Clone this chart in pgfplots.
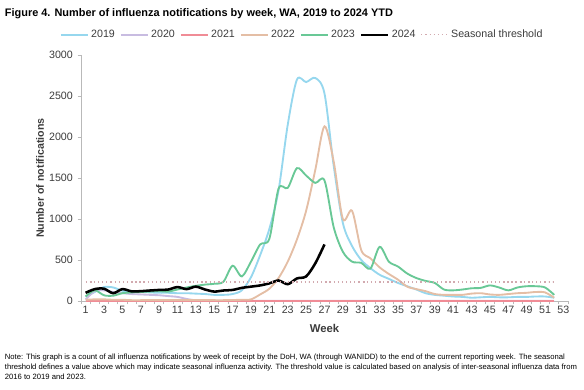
\documentclass[border=0pt]{standalone}
\usepackage{pgfplots}
\pgfplotsset{compat=1.18}
\usepackage{fontspec}
\setmainfont{Liberation Sans}
\definecolor{c2019}{RGB}{150,215,238}
\definecolor{c2020}{RGB}{200,188,225}
\definecolor{c2021}{RGB}{240,140,150}
\definecolor{c2022}{RGB}{228,190,165}
\definecolor{c2023}{RGB}{105,200,150}
\definecolor{cthr}{RGB}{210,170,175}
\definecolor{txt}{RGB}{60,60,60}
\definecolor{axc}{RGB}{185,185,185}

\pgfplotstableread{
w y2019 y2020 y2021 y2022 y2023
1 55 20 2 15 55
2 110 120 2 20 130
3 170 130 2 20 70
4 165 110 2 15 65
5 125 95 2 15 95
6 110 85 2 10 105
7 110 80 2 10 110
8 105 75 2 10 115
9 100 70 2 10 120
10 100 60 2 10 115
11 95 50 2 10 140
12 95 25 2 10 165
13 90 8 2 10 185
14 85 3 2 10 200
15 75 2 2 10 210
16 75 2 2 10 235
17 85 2 2 12 430
18 130 2 2 15 300
19 290 2 2 20 480
20 560 2 2 80 690
21 880 2 2 150 760
22 1350 2 2 280 1370
23 2150 2 2 480 1380
24 2700 2 2 750 1620
25 2670 2 2 1100 1530
26 2720 2 2 1600 1440
27 2530 2 2 2130 1470
28 1650 2 2 1700 900
29 950 2 2 1000 600
30 670 2 2 1100 480
31 500 2 2 620 465
32 400 2 2 520 395
33 320 2 2 410 660
34 270 2 2 330 480
35 220 2 2 260 420
36 180 2 2 175 335
37 140 2 2 145 280
38 95 2 2 120 245
39 75 2 2 85 220
40 65 2 2 75 140
41 55 2 2 75 130
42 50 2 2 75 140
43 40 2 2 90 155
44 45 2 2 95 160
45 50 2 2 80 190
46 45 2 2 75 165
47 45 2 2 85 130
48 50 2 2 95 165
49 50 2 2 100 180
50 55 2 2 110 180
51 55 2 2 105 165
52 40 2 2 40 75
}\flu

\pgfplotstableread{
w y
1 100
2 145
3 150
4 95
5 145
6 118
7 120
8 128
9 135
10 140
11 170
12 145
13 175
14 140
15 115
16 128
17 135
18 160
19 175
20 190
21 215
22 250
23 205
24 275
25 300
26 460
27 690
}\yrtf

\pgfplotstableread{
w y
1 232
52 232
}\thr

\begin{document}
\begin{tikzpicture}
\useasboundingbox (0,0) rectangle (438pt,291.75pt);
\node[anchor=base west, inner sep=0pt, font=\fontsize{8.2}{9.5}\selectfont\bfseries] at (3.5pt,279pt)
  {Figure 4. Number of influenza notifications by week, WA, 2019 to 2024 YTD};
\begin{axis}[
  at={(60.75pt,66pt)}, anchor=south west,
  scale only axis, width=365.25pt, height=184.5pt,
  xmin=0.5, xmax=53.5, ymin=0, ymax=3000,
  axis x line*=bottom, axis y line*=left,
  axis line style={draw=axc, line width=0.6pt},
  tick align=outside,
  major tick length=2.6pt,
  tick style={draw=axc, line width=0.5pt},
  ytick={0,500,...,3000},
  scaled y ticks=false,
  xtick={0.5,1.5,...,53.5},
  xticklabels={},
  extra x ticks={1,3,...,53},
  extra x tick style={major tick length=0pt, tick style={draw=none}},
  ticklabel style={font=\fontsize{8}{9}\selectfont, text=txt},
  /pgf/number format/assume math mode=true,
  /pgf/number format/1000 sep={},
  ylabel={Number of notifications},
  ylabel style={at={(axis description cs:-0.084,0.5)}, anchor=center, font=\fontsize{8}{9}\selectfont\bfseries, text=txt},
  xlabel={Week},
  xlabel style={at={(axis description cs:0.5,-0.11)}, anchor=center, font=\fontsize{8.5}{10}\selectfont\bfseries, text=txt},
  legend columns=7,
  legend style={at={(axis description cs:0.455,1.082)}, anchor=center, draw=none, fill=none,
    font=\fontsize{8}{9}\selectfont, text=txt,
    /tikz/every even column/.append style={column sep=1.8pt}},
  legend image code/.code={\draw[#1] (0pt,0pt) -- (20pt,0pt);},
  every axis plot/.append style={smooth, tension=0.5, line width=1.4pt},
]
\addplot[c2019] table[x=w,y=y2019]{\flu};
\addlegendentry{2019}
\addplot[c2020] table[x=w,y=y2020]{\flu};
\addlegendentry{2020}
\addplot[c2021] table[x=w,y=y2021]{\flu};
\addlegendentry{2021}
\addplot[c2022] table[x=w,y=y2022]{\flu};
\addlegendentry{2022}
\addplot[c2023] table[x=w,y=y2023]{\flu};
\addlegendentry{2023}
\addplot[black, line width=1.9pt] table[x=w,y=y]{\yrtf};
\addlegendentry{2024}
\addplot[cthr, line width=0.9pt, dash pattern=on 0.9pt off 2.2pt] table[x=w,y=y]{\thr};
\addlegendentry{Seasonal threshold}
\end{axis}
\node[anchor=base west, inner sep=0pt, align=left, font=\fontsize{5.75}{7.5}\selectfont] at (3.5pt,6.9pt)
  {Note: This graph is a count of all influenza notifications by week of receipt by the DoH, WA (through WANIDD) to the end of the current reporting week. The seasonal\\
   threshold defines a value above which may indicate seasonal influenza activity. The threshold value is calculated based on analysis of inter-seasonal influenza data from\\
   2016 to 2019 and 2023.};
\end{tikzpicture}
\end{document}
